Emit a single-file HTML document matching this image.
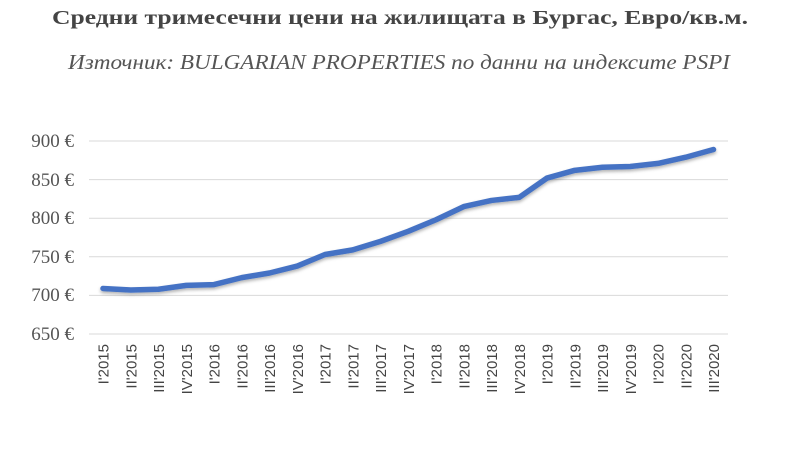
<!DOCTYPE html>
<html><head><meta charset="utf-8"><style>
body{margin:0;background:#fff;width:800px;height:458px;overflow:hidden}
</style></head><body>
<svg width="800" height="458" xmlns="http://www.w3.org/2000/svg">
<defs><filter id="sh" x="-5%" y="-20%" width="110%" height="140%"><feDropShadow dx="0" dy="2" stdDeviation="1.5" flood-color="#000" flood-opacity="0.3"/></filter></defs>
<text x="52" y="24" textLength="696" lengthAdjust="spacingAndGlyphs" font-family="Liberation Serif, serif" font-weight="bold" font-size="20" fill="#444">Средни тримесечни цени на жилищата в Бургас, Евро/кв.м.</text>
<text x="68" y="69" textLength="662" lengthAdjust="spacingAndGlyphs" font-family="Liberation Serif, serif" font-style="italic" font-size="21" fill="#555">Източник: BULGARIAN PROPERTIES по данни на индексите PSPI</text>
<g stroke="#d9d9d9" stroke-width="1">
<line x1="89" x2="728" y1="141" y2="141"/><line x1="89" x2="728" y1="179.6" y2="179.6"/><line x1="89" x2="728" y1="218.2" y2="218.2"/><line x1="89" x2="728" y1="256.8" y2="256.8"/><line x1="89" x2="728" y1="295.4" y2="295.4"/><line x1="89" x2="728" y1="334" y2="334"/>
</g>
<g font-family="Liberation Serif, serif" font-size="19" fill="#555" text-anchor="end">
<text x="74" y="147">900 €</text><text x="74" y="186">850 €</text><text x="74" y="224">800 €</text><text x="74" y="263">750 €</text><text x="74" y="301">700 €</text><text x="74" y="340">650 €</text>
</g>
<g id="xl" font-family="Liberation Sans, sans-serif" font-size="15" fill="#444" text-anchor="end"></g>
<polyline id="ln" fill="none" stroke="#4472C4" stroke-width="5.5" stroke-linejoin="round" stroke-linecap="round" filter="url(#sh)"/>
</svg>
<script>
var d=[709,707,708,713,714,723,729,738,753,759,770,783,798,815,823,827,852,862,866,867,871,879,889];
var lab=["I'2015","II'2015","III'2015","IV'2015","I'2016","II'2016","III'2016","IV'2016","I'2017","II'2017","III'2017","IV'2017","I'2018","II'2018","III'2018","IV'2018","I'2019","II'2019","III'2019","IV'2019","I'2020","II'2020","III'2020"];
var pts=[],g=document.getElementById('xl');
for(var i=0;i<23;i++){var x=103+i*27.75,y=334-(d[i]-650)*0.772;pts.push(x+','+y);
var t=document.createElementNS('http://www.w3.org/2000/svg','text');t.setAttribute('transform','translate('+(x+5.5)+',344) rotate(-90)');t.textContent=lab[i];g.appendChild(t);}
document.getElementById('ln').setAttribute('points',pts.join(' '));
</script>
</body></html>
